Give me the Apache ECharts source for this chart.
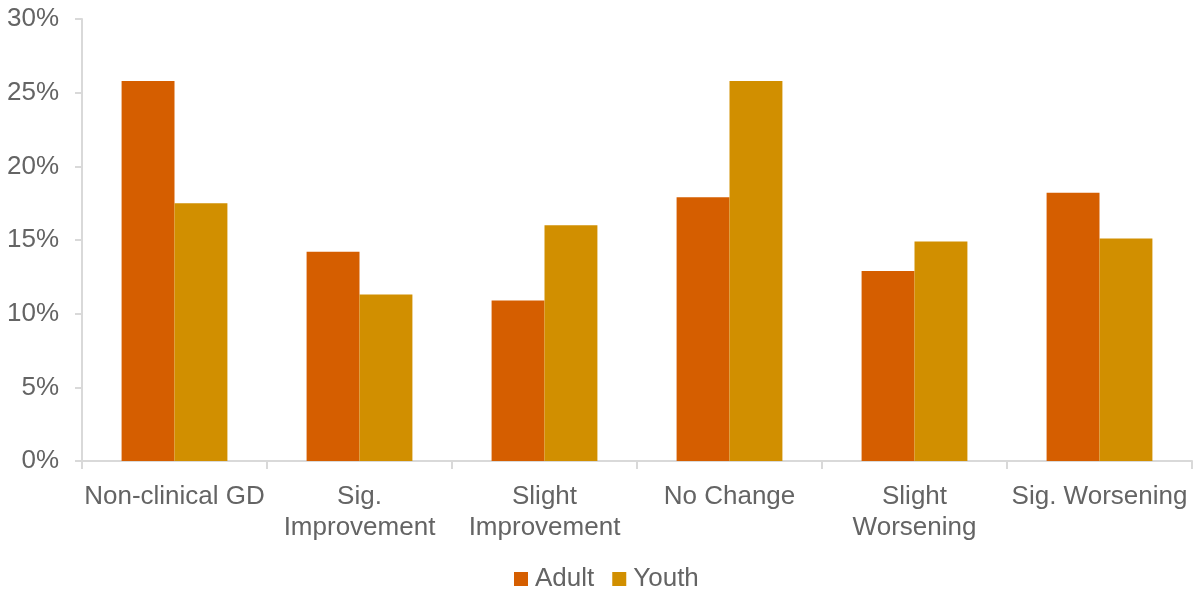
<!DOCTYPE html>
<html>
<head>
<meta charset="utf-8">
<script src="https://cdn.jsdelivr.net/npm/echarts@6/dist/echarts.min.js"></script>
<style>
    html, body { margin: 0; padding: 0; background: #fff; }
    #chart { width: 1193px; height: 592px; }
</style>
</head>
<body>
<div id="chart"></div>
<script>
// 数据
let categories = ['Non-clinical GD', 'Sig.\nImprovement', 'Slight\nImprovement', 'No Change', 'Slight\nWorsening', 'Sig. Worsening'];
let adult = [25.8, 14.2, 10.9, 17.9, 12.9, 18.2];
let youth = [17.5, 11.3, 16.0, 25.8, 14.9, 15.1];
let yTicks = [0, 5, 10, 15, 20, 25, 30];

let textColor = '#646464';
let axisColor = '#d9d9d9';

let option = {
    backgroundColor: '#fff',
    textStyle: { fontFamily: 'Liberation Sans, Arial, sans-serif' },
    grid: {
        left: 82,
        right: 1,
        top: 19,
        bottom: 131,
        containLabel: false
    },
    legend: {
        bottom: -5,
        left: 509,
        itemWidth: 14,
        itemHeight: 14,
        itemGap: 18,
        icon: 'rect',
        textStyle: {
            color: textColor,
            fontSize: 26,
            padding: [0, 0, 0, 2]
        },
        data: ['Adult', 'Youth']
    },
    xAxis: {
        type: 'category',
        data: categories,
        axisLine: {
            lineStyle: { color: axisColor, width: 2 }
        },
        axisTick: {
            show: true,
            length: 8,
            lineStyle: { color: axisColor, width: 2 }
        },
        axisLabel: {
            color: textColor,
            fontSize: 26,
            lineHeight: 31,
            margin: 20,
            interval: 0
        }
    },
    yAxis: {
        type: 'value',
        min: yTicks[0],
        max: yTicks[yTicks.length - 1],
        interval: 5,
        splitLine: { show: false },
        axisLine: {
            show: true,
            lineStyle: { color: axisColor, width: 2 }
        },
        axisTick: {
            show: true,
            length: 7,
            lineStyle: { color: axisColor, width: 2 }
        },
        axisLabel: {
            color: textColor,
            fontSize: 26,
            margin: 23,
            formatter: '{value}%'
        }
    },
    series: [
        {
            name: 'Adult',
            type: 'bar',
            data: adult,
            barWidth: '28.6%',
            barGap: '0%',
            itemStyle: { color: '#d55e00' }
        },
        {
            name: 'Youth',
            type: 'bar',
            data: youth,
            barWidth: '28.6%',
            itemStyle: { color: '#d18f00' }
        }
    ]
};

let myChart = echarts.init(document.getElementById('chart'));
myChart.setOption(option);
</script>
</body>
</html>
